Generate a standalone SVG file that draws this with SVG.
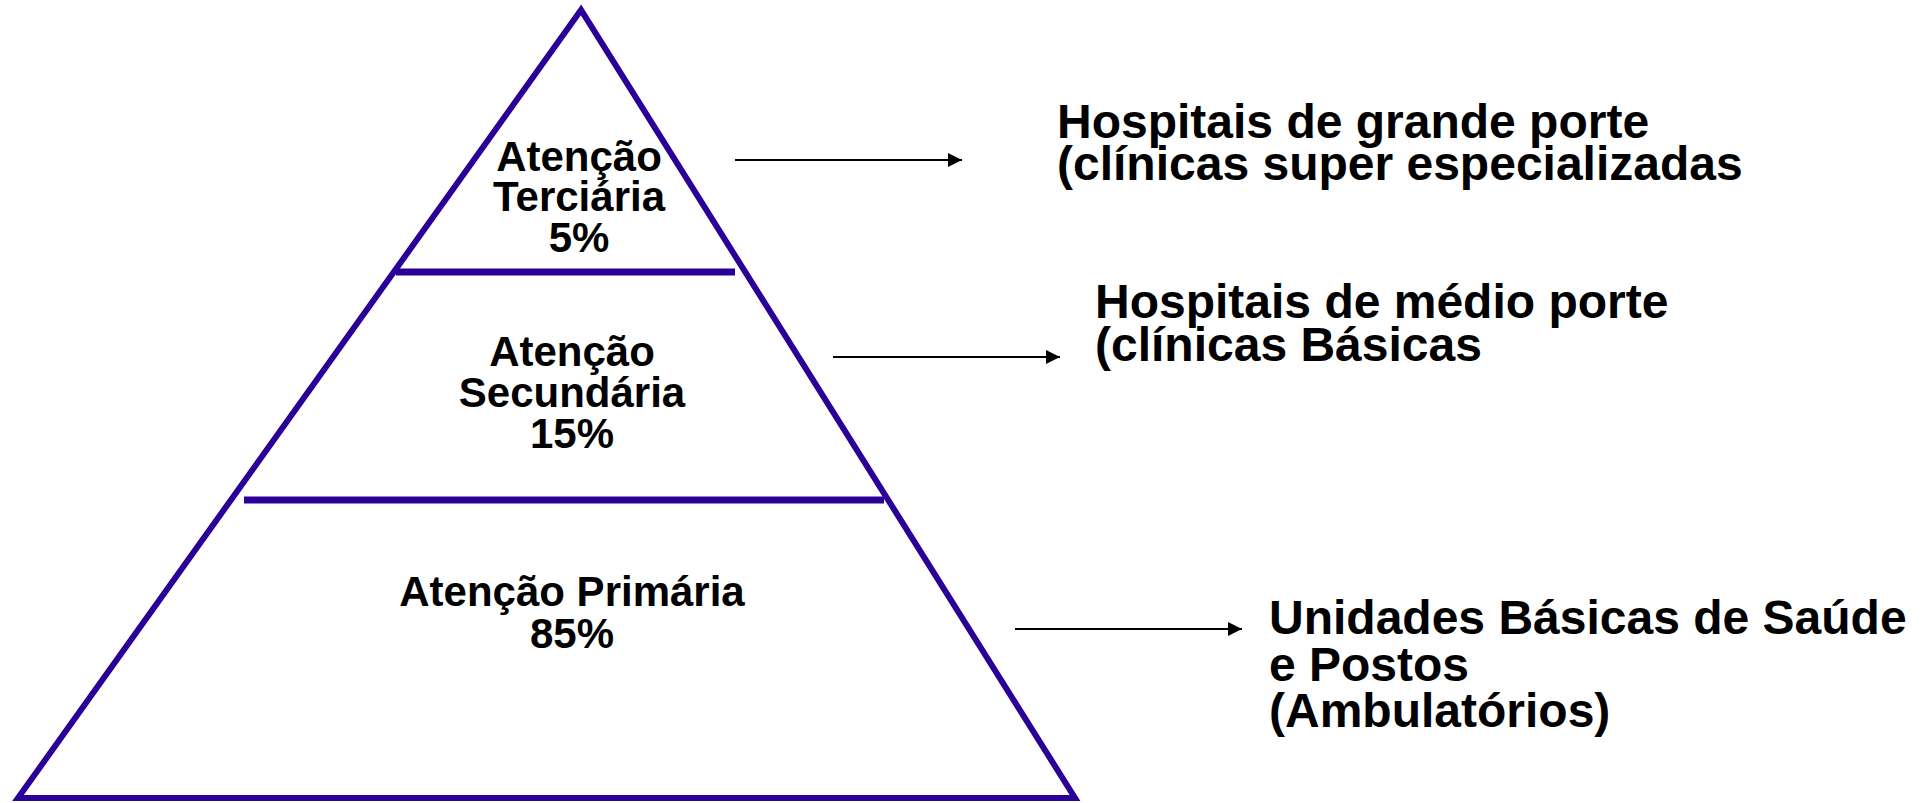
<svg xmlns="http://www.w3.org/2000/svg" width="1930" height="803" viewBox="0 0 1930 803">
<defs>
<style>
.edge{fill:none;stroke:#2a0099;stroke-width:6;stroke-linejoin:miter}
.div{stroke:#2a0099;stroke-width:7}
.lbl{font-family:"Liberation Sans",Arial,sans-serif;font-weight:bold;fill:#000}
.pyr{font-size:42px;text-anchor:middle}
.side{font-size:48px}
.conn{stroke:#000;stroke-width:2;fill:none;marker-end:url(#ah)}
</style>
<marker id="ah" viewBox="0 0 10 10" refX="10" refY="5" markerWidth="7" markerHeight="7" markerUnits="strokeWidth" orient="auto">
<path d="M0,0 L10,5 L0,10 Z" fill="#000"/>
</marker>
</defs>
<rect width="1930" height="803" fill="#fff"/>
<g id="pyramid">
<polygon class="edge" points="581,10 18,798 1075,798"/>
<line class="div" x1="396" y1="272" x2="735" y2="272"/>
<line class="div" x1="244" y1="500" x2="884" y2="500"/>
</g>
<g id="terciaria">
<text class="lbl pyr" x="579" y="171">Atenção</text>
<text class="lbl pyr" x="579" y="211">Terciária</text>
<text class="lbl pyr" x="579" y="252">5%</text>
</g>
<g id="secundaria">
<text class="lbl pyr" x="572" y="366">Atenção</text>
<text class="lbl pyr" x="572" y="407">Secundária</text>
<text class="lbl pyr" x="572" y="448">15%</text>
</g>
<g id="primaria">
<text class="lbl pyr" x="572" y="606">Atenção Primária</text>
<text class="lbl pyr" x="572" y="648">85%</text>
</g>
<g id="grande">
<text class="lbl side" x="1057" y="138">Hospitais de grande porte</text>
<text class="lbl side" x="1057" y="180">(clínicas super especializadas</text>
</g>
<g id="medio">
<text class="lbl side" x="1095" y="318">Hospitais de médio porte</text>
<text class="lbl side" x="1095" y="361">(clínicas Básicas</text>
</g>
<g id="ubs">
<text class="lbl side" x="1269" y="634">Unidades Básicas de Saúde</text>
<text class="lbl side" x="1269" y="681">e Postos</text>
<text class="lbl side" x="1269" y="727">(Ambulatórios)</text>
</g>
<g id="connectors">
<line class="conn" x1="735" y1="160" x2="962" y2="160"/>
<line class="conn" x1="833" y1="357" x2="1060" y2="357"/>
<line class="conn" x1="1015" y1="629" x2="1242" y2="629"/>
</g>
</svg>
